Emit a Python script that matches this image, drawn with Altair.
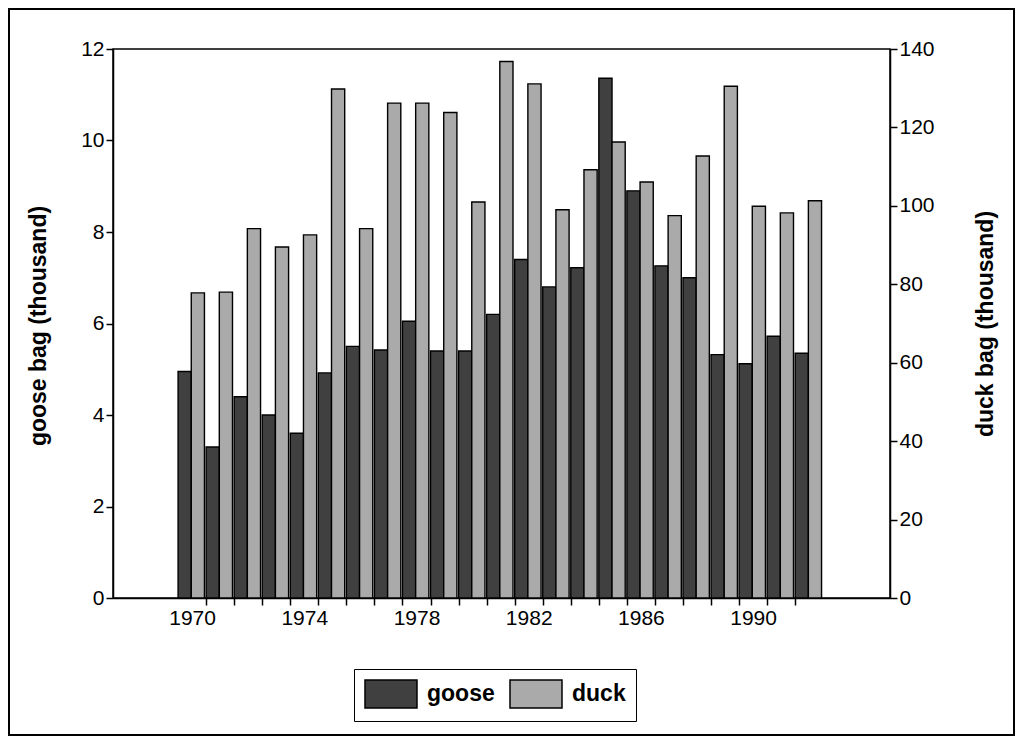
import altair as alt
import pandas as pd

# ---- data ----
years = list(range(1970, 1993))
goose = [4.95, 3.3, 4.4, 4.0, 3.6, 4.92, 5.5, 5.42, 6.05, 5.4, 5.4, 6.2,
         7.4, 6.8, 7.22, 11.36, 8.9, 7.26, 7.0, 5.32, 5.12, 5.72, 5.35]
duck = [77.8, 78.0, 94.2, 89.5, 92.6, 129.8, 94.2, 126.2, 126.2, 123.8, 101.0, 136.8,
        131.1, 99.0, 109.2, 116.3, 106.1, 97.5, 112.7, 130.5, 99.9, 98.2, 101.3]
species = ["goose", "duck"]
species_colors = ["#404040", "#aaaaaa"]
goose_ticks = [0, 2, 4, 6, 8, 10, 12]
duck_ticks = [0, 20, 40, 60, 80, 100, 120, 140]
x_label_years = [1970, 1974, 1978, 1982, 1986, 1990]
x_tick_years = list(range(1970, 1992))

df = pd.DataFrame({
    "year": years + years,
    "species": ["goose"] * len(years) + ["duck"] * len(years),
    "bag": goose + duck,
})

W, H = 777, 549
FONT = "Liberation Sans"
label_list = "[" + ",".join(str(v) for v in x_label_years) + "]"

x_scale = alt.Scale(domain=[1967.18, 1994.88], nice=False, zero=False)
x_axis = alt.Axis(
    title=None, values=x_tick_years, tickOffset=14, labelOffset=-14,
    labelExpr=f"indexof({label_list}, datum.value) >= 0 ? datum.value : ''",
    format="d", labelOverlap=False, labelFlush=False, grid=False,
    tickSize=7, labelPadding=2,
)

fill = alt.Fill(
    "species:N",
    scale=alt.Scale(domain=species, range=species_colors),
    legend=alt.Legend(
        orient="none", legendX=241, legendY=620, direction="horizontal",
        columns=2, gridAlign="all", title=None,
        symbolType="M-1,-1H2.714V1H-1Z", symbolSize=784,
        symbolStrokeColor="black", symbolStrokeWidth=1.5, symbolOpacity=1,
        labelFont=FONT, labelFontSize=23, labelFontWeight="bold", labelColor="black",
        labelOffset=33, columnPadding=12, padding=10,
        strokeColor="black", fillColor="white",
    ),
)

base = alt.Chart(df)

goose_layer = base.transform_filter(alt.datum.species == "goose").transform_calculate(
    x0="datum.year - 0.5", x1="datum.year - 0.03"
).mark_bar(stroke="black", strokeWidth=1.4).encode(
    x=alt.X("x0:Q", scale=x_scale, axis=x_axis),
    x2="x1:Q",
    y=alt.Y("bag:Q", scale=alt.Scale(domain=[0, 12], nice=False, zero=True),
            axis=alt.Axis(orient="left", values=goose_ticks, title="goose bag (thousand)",
                          grid=False, tickSize=7, labelPadding=2,
                          titleX=-75, titleY=H / 2 + 2, titleAngle=270,
                          titleAlign="center", titleBaseline="middle")),
    y2=alt.datum(0),
    fill=fill,
)

duck_layer = base.transform_filter(alt.datum.species == "duck").transform_calculate(
    x0="datum.year - 0.03", x1="datum.year + 0.44"
).mark_bar(stroke="black", strokeWidth=1.4).encode(
    x=alt.X("x0:Q", scale=x_scale, axis=x_axis),
    x2="x1:Q",
    y=alt.Y("bag:Q", scale=alt.Scale(domain=[0, 140], nice=False, zero=True),
            axis=alt.Axis(orient="right", values=duck_ticks, title="duck bag (thousand)",
                          grid=False, tickSize=7, labelPadding=2,
                          titleX=95, titleY=H / 2, titleAngle=270,
                          titleAlign="center", titleBaseline="middle")),
    y2=alt.datum(0),
    fill=fill,
)

frame = alt.Chart(pd.DataFrame({"k": [0]})).mark_rect(
    fill="transparent", stroke="black", strokeWidth=2
).encode(
    x=alt.value(-104), x2=alt.value(W + 124),
    y=alt.value(-40), y2=alt.value(H + 137),
)

chart = alt.layer(goose_layer, duck_layer, frame).resolve_scale(
    y="independent"
).properties(
    width=W, height=H, padding=0, background="white"
).configure_view(
    stroke="black", strokeWidth=1.5
).configure_axis(
    domainColor="black", domainWidth=1.5, tickColor="black", tickWidth=1.5,
    labelColor="black", labelFont=FONT, labelFontSize=21,
    titleColor="black", titleFont=FONT, titleFontSize=23, titleFontWeight="bold",
)

chart.save("out.html", embed_options={"renderer": "svg", "actions": False})
